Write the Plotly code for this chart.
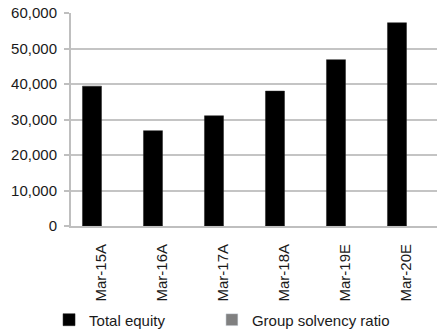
import plotly.graph_objects as go

categories = ["Mar-15A", "Mar-16A", "Mar-17A", "Mar-18A", "Mar-19E", "Mar-20E"]
total_equity = [39400, 26850, 31050, 38000, 46850, 57250]
group_solvency_ratio = [None, None, None, None, None, None]
y_ticks = [0, 10000, 20000, 30000, 40000, 50000, 60000]

font = dict(family="Liberation Sans, Arial, sans-serif", size=15, color="#1a1a1a")

fig = go.Figure()
fig.add_trace(go.Bar(x=categories, y=total_equity, name="Total equity", legend="legend",
                     marker=dict(color="#000000", line=dict(color="#222222", width=0.5))))
fig.add_trace(go.Bar(x=categories, y=group_solvency_ratio, name="Group solvency ratio",
                     legend="legend2", marker=dict(color="#808080")))

legend_common = dict(orientation="h", xref="paper", yref="paper", xanchor="left",
                     y=-0.441, yanchor="middle", bgcolor="rgba(0,0,0,0)",
                     font=dict(size=15), itemwidth=30)

fig.update_layout(
    width=437, height=333,
    margin=dict(l=71, r=0, t=13, b=107, autoexpand=False),
    paper_bgcolor="white", plot_bgcolor="white",
    barmode="group", bargap=0.376, bargroupgap=0,
    font=font,
    showlegend=True,
    legend=dict(x=-0.06, **legend_common),
    legend2=dict(x=0.385, **legend_common),
)
fig.update_xaxes(tickangle=-90, showline=True, linecolor="#bfbfbf", linewidth=2,
                 ticks="", showgrid=False, tickfont=dict(size=15), ticklabelstandoff=10)
fig.update_yaxes(range=[0, 60000], tickvals=y_ticks, tickformat=",d",
                 showgrid=True, gridcolor="#c4c4c4", gridwidth=2,
                 showline=True, linecolor="#bfbfbf", linewidth=2,
                 ticks="outside", ticklen=5, tickcolor="#bfbfbf", tickwidth=2,
                 zeroline=False, tickfont=dict(size=15), ticklabelstandoff=4)

fig.write_html("out.html")
